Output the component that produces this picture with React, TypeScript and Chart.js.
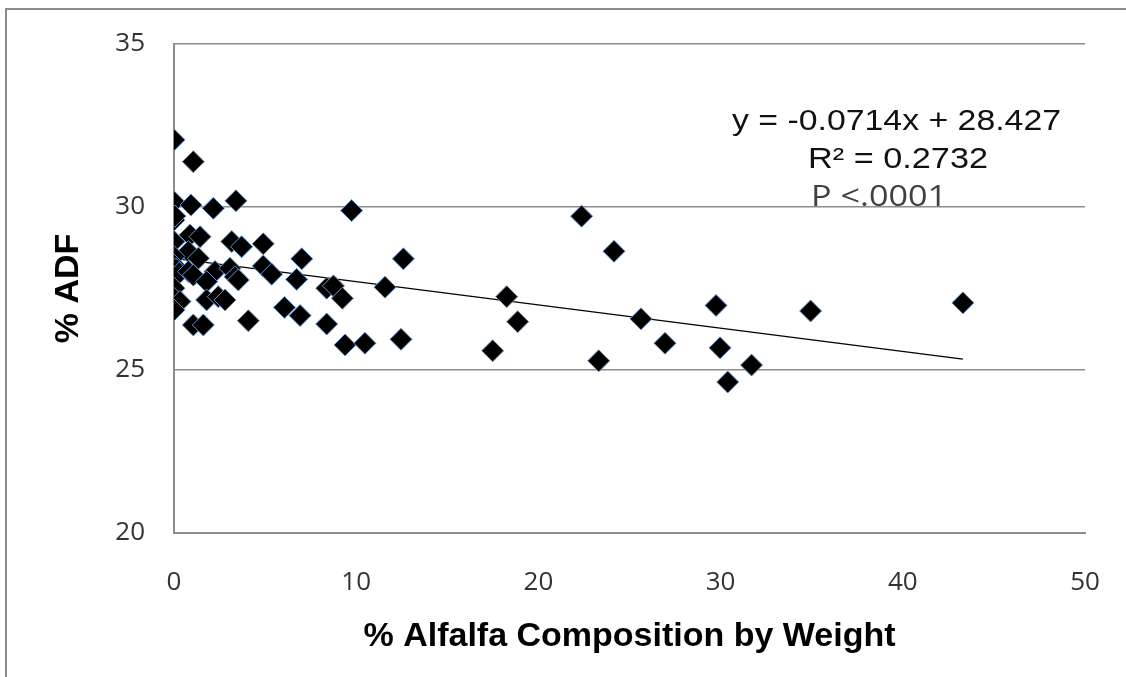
import React, { useEffect, useRef } from "react";
import { Chart, registerables } from "chart.js";

Chart.register(...registerables);

// ---- Data ----
const alfalfaPct = [
  0, 1.06, 0, 0.93, 2.16, 3.4, 0, 0.05, 0.88, 1.43,
  0, 3.17, 3.71, 4.9, 0.79, 0, 1.34, 0, 0.1, 0.3,
  0.79, 1.06, 2.25, 3.07, 1.79, 3.35, 3.53, 4.9, 5.36, 7.01,
  6.73, 0, 0, 0.33, 0, 1.79, 2.43, 2.8, 1.06, 1.61,
  4.08, 6.06, 6.92, 8.38, 8.75, 9.24, 8.38, 9.39, 10.48, 12.46,
  11.58, 12.59, 9.75, 17.49, 18.26, 18.86, 22.37, 24.15, 23.31, 25.63,
  26.95, 29.75, 29.97, 30.39, 31.7, 34.94, 43.3,
];
const adfPct = [
  32.06, 31.39, 30.16, 30.06, 29.96, 30.19, 29.6, 29.72, 29.14, 29.09,
  28.94, 28.94, 28.78, 28.87, 28.63, 28.48, 28.43, 28.22, 28.1, 27.98,
  28.02, 27.91, 28.02, 28.12, 27.71, 27.86, 27.76, 28.19, 27.94, 28.41,
  27.78, 27.51, 27.2, 27.1, 26.84, 27.15, 27.25, 27.15, 26.38, 26.38,
  26.51, 26.92, 26.67, 27.51, 27.58, 27.2, 26.41, 25.77, 25.82, 25.94,
  27.54, 28.41, 29.89, 25.59, 27.25, 26.48, 29.72, 28.64, 25.28, 26.57,
  25.82, 26.98, 25.68, 24.63, 25.15, 26.81, 27.06,
];
const trendX = [0, 43.3];
const trendY = [28.427, 25.336];
const equationLines = ["y = -0.0714x + 28.427", "R² = 0.2732", "P <.0001"];
const xTitle = "% Alfalfa Composition by Weight";
const yTitle = "% ADF";

const W = 1126;
const H = 677;

const framePlugin = {
  id: "frame",
  beforeDraw(chart: any) {
    const ctx = chart.ctx;
    ctx.save();
    ctx.fillStyle = "#ffffff";
    ctx.fillRect(0, 0, chart.width, chart.height);
    ctx.strokeStyle = "#8c8c8c";
    ctx.lineWidth = 2;
    ctx.beginPath();
    ctx.moveTo(6, chart.height);
    ctx.lineTo(6, 9);
    ctx.lineTo(chart.width, 9);
    ctx.stroke();
    ctx.restore();
  },
};

const equationPlugin = {
  id: "equation",
  afterDatasetsDraw(chart: any) {
    const ctx = chart.ctx;
    const specs = [
      { text: equationLines[0], x: 732, y: 130, w: 329, font: "29px 'Liberation Sans', Arial, sans-serif", color: "#111111" },
      { text: equationLines[1], x: 808, y: 168, w: 180, font: "29px 'Liberation Sans', Arial, sans-serif", color: "#111111" },
      { text: equationLines[2], x: 811, y: 206, w: 136, font: "30px 'Open Sans', sans-serif", color: "#404040" },
    ];
    for (const s of specs) {
      ctx.save();
      ctx.font = s.font;
      const m = ctx.measureText(s.text).width;
      ctx.translate(s.x, s.y);
      ctx.scale(s.w / m, 1);
      ctx.fillStyle = s.color;
      ctx.textAlign = "left";
      ctx.textBaseline = "alphabetic";
      ctx.fillText(s.text, 0, 0);
      ctx.restore();
    }
  },
};

export default function App() {
  const ref = useRef<HTMLCanvasElement | null>(null);

  useEffect(() => {
    if (!ref.current) return;
    const tickFont = { family: "'Open Sans', sans-serif", size: 26 };
    const titleFont = { family: "'Liberation Sans', Arial, sans-serif", size: 34, weight: "bold" as const };
    const chart = new Chart(ref.current, {
      type: "scatter",
      data: {
        datasets: [
          {
            label: "ADF",
            data: alfalfaPct.map((x, i) => ({ x, y: adfPct[i] })),
            pointStyle: "rectRot",
            pointRadius: 11,
            backgroundColor: "#000000",
            borderColor: "#6a93c8",
            borderWidth: 1,
          },
          {
            type: "line",
            label: "Trend",
            data: trendX.map((x, i) => ({ x, y: trendY[i] })),
            borderColor: "#000000",
            borderWidth: 1.3,
            pointRadius: 0,
            fill: false,
            showLine: true,
          } as any,
        ],
      },
      options: {
        responsive: false,
        animation: false,
        devicePixelRatio: 1,
        layout: { padding: { left: 0, top: 44, right: 41, bottom: 0 } },
        plugins: { legend: { display: false }, tooltip: { enabled: false } },
        scales: {
          x: {
            type: "linear",
            min: 0,
            max: 50,
            afterFit(s: any) { s.height = 144; s.paddingLeft = 0; s.paddingRight = 0; },
            ticks: { stepSize: 10, font: tickFont, color: "#333333", padding: 34, maxRotation: 0 },
            grid: { display: false, drawTicks: false },
            border: { display: true, color: "#8c8c8c", width: 2 },
            title: { display: true, text: xTitle, font: titleFont, color: "#000000", padding: { top: 0, bottom: 20 } },
          },
          y: {
            type: "linear",
            min: 20,
            max: 35,
            afterFit(s: any) { s.width = 174; s.paddingTop = 0; s.paddingBottom = 0; },
            ticks: { stepSize: 5, font: tickFont, color: "#333333", padding: 29 },
            grid: { display: true, color: "#8c8c8c", lineWidth: 1.5, drawTicks: false },
            border: { display: true, color: "#8c8c8c", width: 2 },
            title: { display: true, text: yTitle, font: titleFont, color: "#000000", padding: { top: 48, bottom: 0 } },
          },
        },
      },
      plugins: [framePlugin, equationPlugin],
    });
    (document as any).fonts?.ready?.then(() => chart.update());
    return () => chart.destroy();
  }, []);

  return (
    <div style={{ position: "absolute", left: 0, top: 0, width: W, height: H }}>
      <canvas ref={ref} width={W} height={H} style={{ width: W, height: H, display: "block" }} />
    </div>
  );
}
